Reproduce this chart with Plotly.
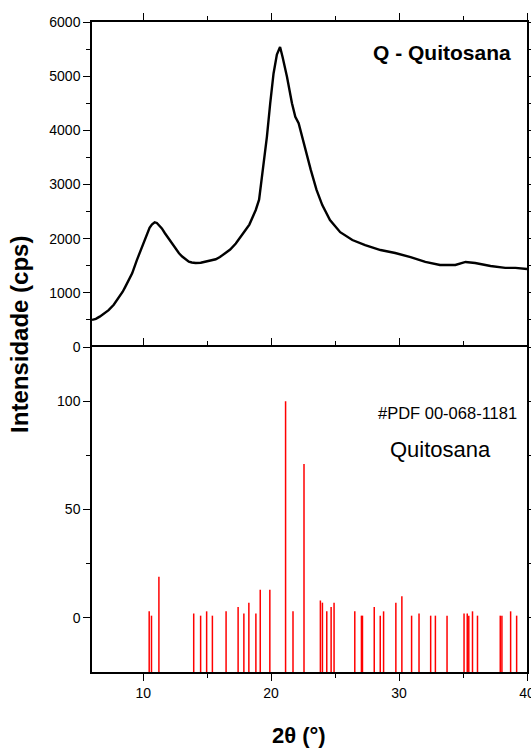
import plotly.graph_objects as go

# XRD pattern (2theta, intensity cps)
two_theta = [6.0, 6.3, 6.6, 7.0, 7.3, 7.7, 8.07, 8.4, 8.6, 8.9, 9.14, 9.5, 9.9, 10.3, 10.5,
             10.68, 10.9, 11.07, 11.3, 11.46, 11.7, 11.99, 12.2, 12.5, 12.8, 13.05, 13.3,
             13.57, 13.8, 14.1, 14.5, 14.88, 15.3, 15.67, 16.0, 16.45, 16.8, 17.24, 17.6,
             18.0, 18.3, 18.55, 18.8, 19.06, 19.35, 19.67, 19.93, 20.19, 20.45, 20.7, 20.9,
             21.24, 21.63, 21.89, 22.15, 22.41, 22.75, 23.1, 23.55, 24.0, 24.6, 25.4, 26.35,
             27.35, 28.55, 29.7, 30.9, 32.05, 33.2, 34.4, 35.2, 35.95, 37.15, 38.3, 39.1, 40.0]
intensity = [500, 520, 560, 620, 680, 780, 900, 1020, 1110, 1250, 1360, 1600, 1850, 2100, 2200,
             2260, 2300, 2290, 2240, 2190, 2100, 2000, 1920, 1820, 1730, 1670, 1620,
             1575, 1560, 1550, 1555, 1575, 1590, 1620, 1660, 1730, 1800, 1910, 2020,
             2160, 2260, 2380, 2530, 2720, 3250, 3880, 4500, 5050, 5400, 5540, 5350,
             4990, 4500, 4250, 4130, 3880, 3550, 3270, 2900, 2620, 2345, 2120, 1975,
             1880, 1790, 1735, 1660, 1570, 1515, 1515, 1570, 1550, 1495, 1460, 1460, 1440]

# Reference pattern PDF 00-068-1181 (positions and relative intensities)
pdf_pos = [10.47, 10.65, 11.23, 13.95, 14.49, 14.96, 15.41, 16.48, 17.42, 17.87, 18.26, 18.81,
           19.15, 19.90, 21.13, 21.71, 22.57, 23.85, 24.01, 24.35, 24.69, 24.92, 26.54, 27.06,
           27.14, 28.06, 28.53, 28.79, 29.75, 30.22, 30.98, 31.56, 32.47, 32.84, 33.75, 35.08,
           35.33, 35.45, 35.74, 36.13, 37.91, 38.04, 38.72, 39.19]
pdf_int = [3, 1, 19, 2, 1, 3, 1, 3, 5, 2, 7, 2,
           13, 13, 100, 3, 71, 8, 7, 3, 5, 7, 3, 1,
           1, 5, 1, 3, 7, 10, 1, 2, 1, 1, 1, 2,
           2, 1, 3, 1, 1, 1, 3, 1]

PDF_BASE = -25

stick_x, stick_y = [], []
for p, h in zip(pdf_pos, pdf_int):
    stick_x += [p, p, None]
    stick_y += [PDF_BASE, h, None]

fig = go.Figure()
fig.add_trace(go.Scatter(x=two_theta, y=intensity, mode="lines",
                         line=dict(color="black", width=2.4),
                         xaxis="x", yaxis="y", showlegend=False))
fig.add_trace(go.Scatter(x=stick_x, y=stick_y, mode="lines",
                         line=dict(color="#ff0000", width=1.5),
                         xaxis="x2", yaxis="y2", showlegend=False))

FONT = "Liberation Sans, Arial, sans-serif"
font_tick = dict(family=FONT, size=14, color="black")
ax_common = dict(showline=True, linecolor="black", linewidth=1.5, showgrid=False,
                 zeroline=False, ticks="outside", ticklen=7, tickwidth=1.2,
                 tickcolor="black", tickfont=font_tick, automargin=False)

fig.update_layout(
    width=531, height=749,
    margin=dict(l=92, r=4, t=22, b=77),
    plot_bgcolor="white", paper_bgcolor="white",
    xaxis=dict(**ax_common, domain=[0, 1], range=[6, 40], anchor="y", side="top",
               mirror=False, showticklabels=False, tickvals=[10, 20, 30, 40],
               minor=dict(tickvals=[15, 25, 35], ticklen=4, tickcolor="black", ticks="outside")),
    yaxis=dict(**ax_common, domain=[0.5, 1], range=[0, 6000], anchor="x",
               mirror="ticks", tickvals=[0, 1000, 2000, 3000, 4000, 5000, 6000],
               minor=dict(tickvals=[500, 1500, 2500, 3500, 4500, 5500], ticklen=4,
                          tickcolor="black", ticks="outside")),
    xaxis2=dict(**ax_common, domain=[0, 1], range=[6, 40], anchor="y2",
                mirror="ticks", tickvals=[10, 20, 30, 40], ticklabeloverflow="allow",
                minor=dict(tickvals=[15, 25, 35], ticklen=4, tickcolor="black", ticks="outside")),
    yaxis2=dict(**ax_common, domain=[0, 0.5], range=[-25, 125], anchor="x2",
                mirror="ticks", tickvals=[0, 50, 100],
                minor=dict(tickvals=[25, 75], ticklen=4, tickcolor="black", ticks="outside")),
)

fig.add_annotation(text="<b>Q - Quitosana</b>", xref="paper", yref="paper",
                   x=0.967, y=0.953, xanchor="right", yanchor="middle", showarrow=False,
                   font=dict(family=FONT, size=21, color="black"))
fig.add_annotation(text="#PDF 00-068-1181", xref="paper", yref="paper",
                   x=0.982, y=0.399, xanchor="right", yanchor="middle", showarrow=False,
                   font=dict(family=FONT, size=16.5, color="black"))
fig.add_annotation(text="Quitosana", xref="paper", yref="paper",
                   x=0.802, y=0.343, xanchor="center", yanchor="middle", showarrow=False,
                   font=dict(family=FONT, size=22, color="black"))
fig.add_annotation(text="<b>Intensidade (cps)</b>", xref="paper", yref="paper",
                   x=-0.168, y=0.52, xanchor="center", yanchor="middle", textangle=-90,
                   showarrow=False,
                   font=dict(family=FONT, size=24, color="black"))
fig.add_annotation(text="<b>2θ (°)</b>", xref="paper", yref="paper",
                   x=0.475, y=-0.097, xanchor="center", yanchor="middle", showarrow=False,
                   font=dict(family=FONT, size=22, color="black"))

fig.write_html("out.html")
